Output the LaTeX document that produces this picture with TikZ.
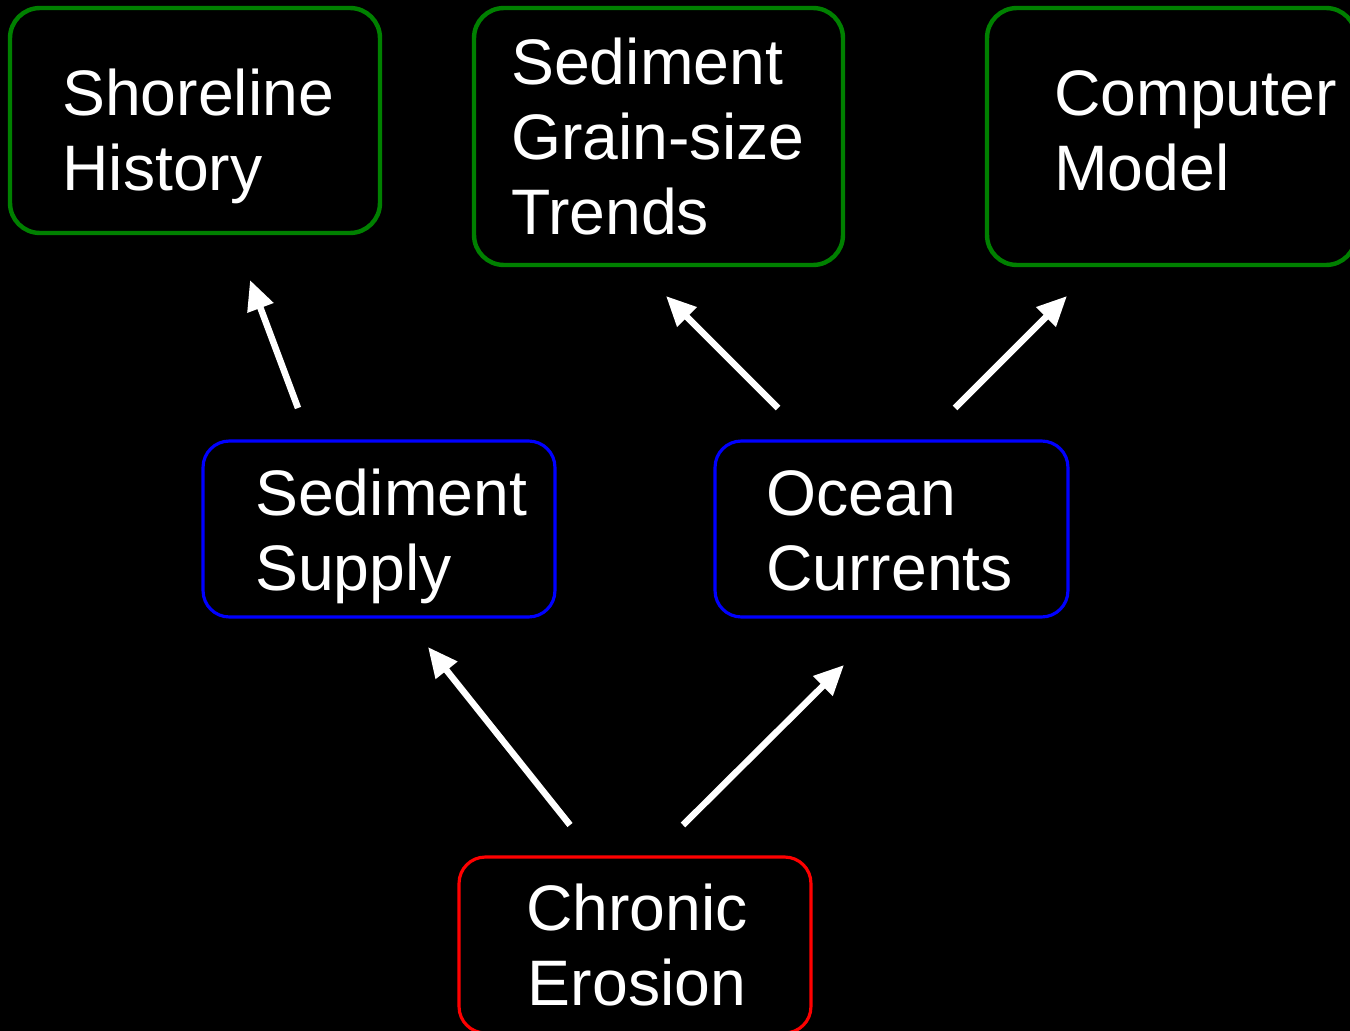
\documentclass[tikz,border=0pt]{standalone}
\usepackage{fontspec}
\setmainfont{Liberation Sans}
\usetikzlibrary{arrows.meta}
\definecolor{topgreen}{RGB}{0,128,0}
\definecolor{midblue}{RGB}{0,0,255}
\definecolor{lowred}{RGB}{255,0,0}
\tikzset{
  box/.style={draw, fill=black, line width=1.8pt, rounded corners=15pt, inner sep=0pt},
  lbl/.style={text=white, align=left, anchor=base west, inner sep=0pt,
    font=\fontsize{36.6}{42.6}\selectfont},
  arr/.style={white, line width=3.7pt, -{Triangle[length=17pt,width=15pt]}},
}
\begin{document}
\begin{tikzpicture}[x=0.02cm,y=-0.02cm]
\fill[black] (0,0) rectangle (1350,1031);
\useasboundingbox (0,0) rectangle (1350,1031);
% top row
\node[box, draw=topgreen, line width=2.5pt, rounded corners=17pt, minimum width=7.4cm, minimum height=4.5cm] (shore) at (195,120.5) {};
\node[box, draw=topgreen, line width=2.5pt, rounded corners=17pt, minimum width=7.38cm, minimum height=5.14cm] (trend) at (658.5,136.5) {};
\node[box, draw=topgreen, line width=2.5pt, rounded corners=17pt, minimum width=7.38cm, minimum height=5.14cm] (model) at (1171.5,136.5) {};
% middle row
\node[box, draw=midblue, minimum width=7.04cm, minimum height=3.52cm] (supply) at (379,529) {};
\node[box, draw=midblue, minimum width=7.06cm, minimum height=3.52cm] (ocean) at (891.5,529) {};
% bottom
\node[box, draw=lowred, minimum width=7.04cm, minimum height=3.52cm] (erosion) at (635,945) {};
% texts (anchored on the last line)
\node[lbl] (shoretxt) at (62,190) {Shoreline\\History};
\node[lbl] (trendtxt) at (511,234) {Sediment\\Grain-size\\Trends};
\node[lbl] (modeltxt) at (1054,190) {Computer\\Model};
\node[lbl] (supplytxt) at (255,590) {Sediment\\Supply};
\node[lbl] (oceantxt) at (766,590) {Ocean\\Currents};
\node[lbl, align=center, anchor=base] (erosiontxt) at (637,1005) {Chronic\\Erosion};
% arrows
\coordinate (a1) at (298,408); \coordinate (b1) at (250,280);
\coordinate (a2) at (778,408); \coordinate (b2) at (666,296);
\coordinate (a3) at (955,408); \coordinate (b3) at (1067,296);
\coordinate (a4) at (570,825); \coordinate (b4) at (428,647);
\coordinate (a5) at (683,825); \coordinate (b5) at (844,665);
\draw[arr] (a1) -- (b1);
\draw[arr] (a2) -- (b2);
\draw[arr] (a3) -- (b3);
\draw[arr] (a4) -- (b4);
\draw[arr] (a5) -- (b5);
\end{tikzpicture}
\end{document}
